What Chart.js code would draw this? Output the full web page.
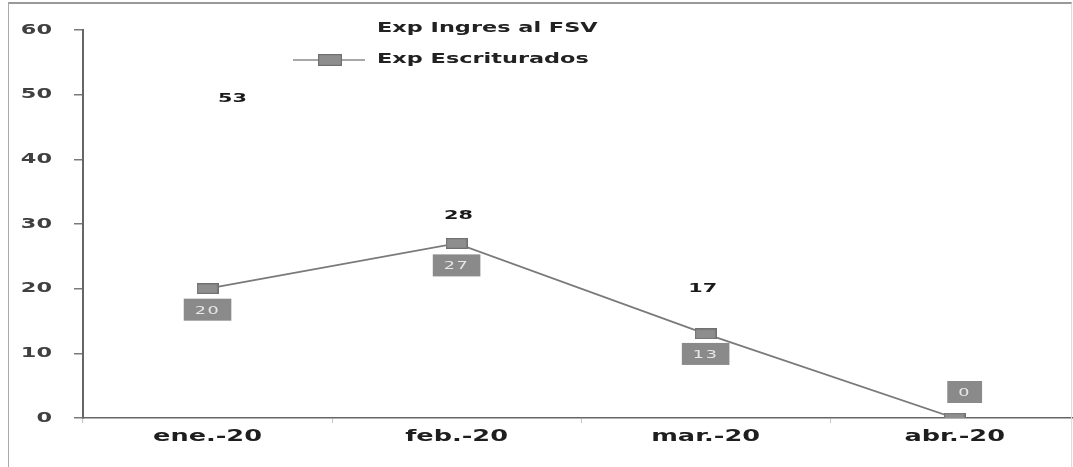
<!DOCTYPE html>
<html>
<head>
<meta charset="utf-8">
<script src="https://cdn.jsdelivr.net/npm/chart.js@4.4.1/dist/chart.umd.min.js"></script>
<style>
    html, body { margin: 0; padding: 0; background: #fff; overflow: hidden; width: 1073px; height: 467px; }
    #wrap { position: relative; width: 1073px; height: 467px; overflow: hidden; }
    #chart { position: absolute; left: 0; top: 0; }
    #frame { position: absolute; left: 8px; top: 2px; width: 1062px; height: 480px;
             border-left: 1.5px solid #aaa; border-top: 2px solid #999; border-right: 1px solid #ddd; pointer-events: none; }
</style>
</head>
<body>
<div id="wrap">
    <canvas id="chart" width="1085" height="467"></canvas>
    <div id="frame"></div>
</div>
<script>
// Chart data
const categories = ['ene.-20', 'feb.-20', 'mar.-20', 'abr.-20'];
const ingresValues = [53, 28, 17, 0];
const escrituradosValues = [20, 27, 13, 0];
const seriesNames = ['Exp Ingres al FSV', 'Exp Escriturados'];
const yMin = 0;
const yMax = 60;
const yStep = 10;

// the scanned original is stretched sideways, so text is drawn wider
const SX = 1.6;

function makeMarker(w, h) {
    const c = document.createElement('canvas');
    c.width = w;
    c.height = h;
    const g = c.getContext('2d');
    g.fillStyle = '#8e8e8e';
    g.fillRect(0, 0, w, h);
    g.strokeStyle = '#707070';
    g.lineWidth = 1.2;
    g.strokeRect(0.6, 0.6, w - 1.2, h - 1.2);
    return c;
}

function wideText(ctx, text, x, y, align) {
    ctx.save();
    ctx.translate(x, y);
    ctx.scale(SX, 1);
    ctx.textAlign = align;
    ctx.textBaseline = 'middle';
    ctx.fillText(text, 0, 0);
    ctx.restore();
}

const pointMarker = makeMarker(22, 11);
const legendMarker = makeMarker(24, 12);

const textLayer = {
    id: 'textLayer',
    afterDraw(chart, args, opts) {
        const ctx = chart.ctx;
        const xs = chart.scales.x;
        const ys = chart.scales.y;

        // y tick labels
        ctx.save();
        ctx.font = 'bold 14px "DejaVu Sans"';
        ctx.fillStyle = '#404040';
        ys.ticks.forEach(t => {
            wideText(ctx, String(t.value), 52, ys.getPixelForValue(t.value), 'right');
        });

        // category labels
        ctx.font = 'bold 16px "DejaVu Sans"';
        ctx.fillStyle = '#1e1e1e';
        categories.forEach((c, i) => {
            wideText(ctx, c, xs.getPixelForValue(i), 437, 'center');
        });

        // legend
        ctx.font = 'bold 14px "DejaVu Sans"';
        ctx.fillStyle = '#222';
        wideText(ctx, seriesNames[0], 377, 28, 'left');
        ctx.strokeStyle = '#8a8a8a';
        ctx.lineWidth = 1.5;
        ctx.beginPath();
        ctx.moveTo(293, 60);
        ctx.lineTo(365, 60);
        ctx.stroke();
        ctx.drawImage(legendMarker, 318, 54);
        wideText(ctx, seriesNames[1], 377, 59, 'left');

        // Ingres value labels (no marks)
        const m0 = chart.getDatasetMeta(0);
        ctx.font = 'bold 13px "DejaVu Sans"';
        ctx.fillStyle = '#1a1a1a';
        m0.data.forEach((pt, i) => {
            const s = opts.ingresShift[i];
            if (!s) return;
            wideText(ctx, String(ingresValues[i]), pt.x + s[0], pt.y + s[1], 'center');
        });

        // Escriturados boxed labels
        const m1 = chart.getDatasetMeta(1);
        ctx.font = '11px "DejaVu Sans"';
        ctx.letterSpacing = '1px';
        m1.data.forEach((pt, i) => {
            const s = opts.escShift[i];
            const txt = String(escrituradosValues[i]);
            const w = ctx.measureText(txt).width * SX + 22;
            const cx = pt.x + s[0];
            const cy = pt.y + s[1];
            ctx.fillStyle = '#8a8a8a';
            ctx.fillRect(cx - w / 2, cy - 11, w, 22);
            ctx.fillStyle = '#e8e8e8';
            wideText(ctx, txt, cx, cy + 1, 'center');
        });
        ctx.restore();
    }
};

new Chart(document.getElementById('chart'), {
    type: 'line',
    data: {
        labels: categories,
        datasets: [{
            label: seriesNames[0],
            data: ingresValues,
            showLine: false,
            pointRadius: 0,
            pointHoverRadius: 0
        }, {
            label: seriesNames[1],
            data: escrituradosValues,
            borderColor: '#7a7a7a',
            borderWidth: 1.8,
            pointStyle: pointMarker,
            tension: 0
        }]
    },
    options: {
        responsive: false,
        animation: false,
        events: [],
        layout: { padding: { top: 30, right: 2, left: 0, bottom: 0 } },
        plugins: {
            legend: { display: false },
            tooltip: { enabled: false },
            textLayer: {
                ingresShift: [[25, 23], [2, -21], [-3, -19], null],
                escShift: [[0, 21], [0, 22], [0, 20], [10, -26]]
            }
        },
        scales: {
            x: {
                offset: true,
                afterFit: (scale) => { scale.height = 49; },
                ticks: { display: false },
                grid: { offset: true, drawOnChartArea: false, drawTicks: true, tickLength: 5, color: '#c4c4c4' },
                border: { color: '#666', width: 1.5 }
            },
            y: {
                min: yMin,
                max: yMax,
                afterFit: (scale) => { scale.width = 83; },
                ticks: { display: false, stepSize: yStep },
                grid: { drawOnChartArea: false, drawTicks: true, tickLength: 9, color: '#7a7a7a', lineWidth: 1.5 },
                border: { color: '#666', width: 2 }
            }
        }
    },
    plugins: [textLayer]
});
</script>
</body>
</html>
